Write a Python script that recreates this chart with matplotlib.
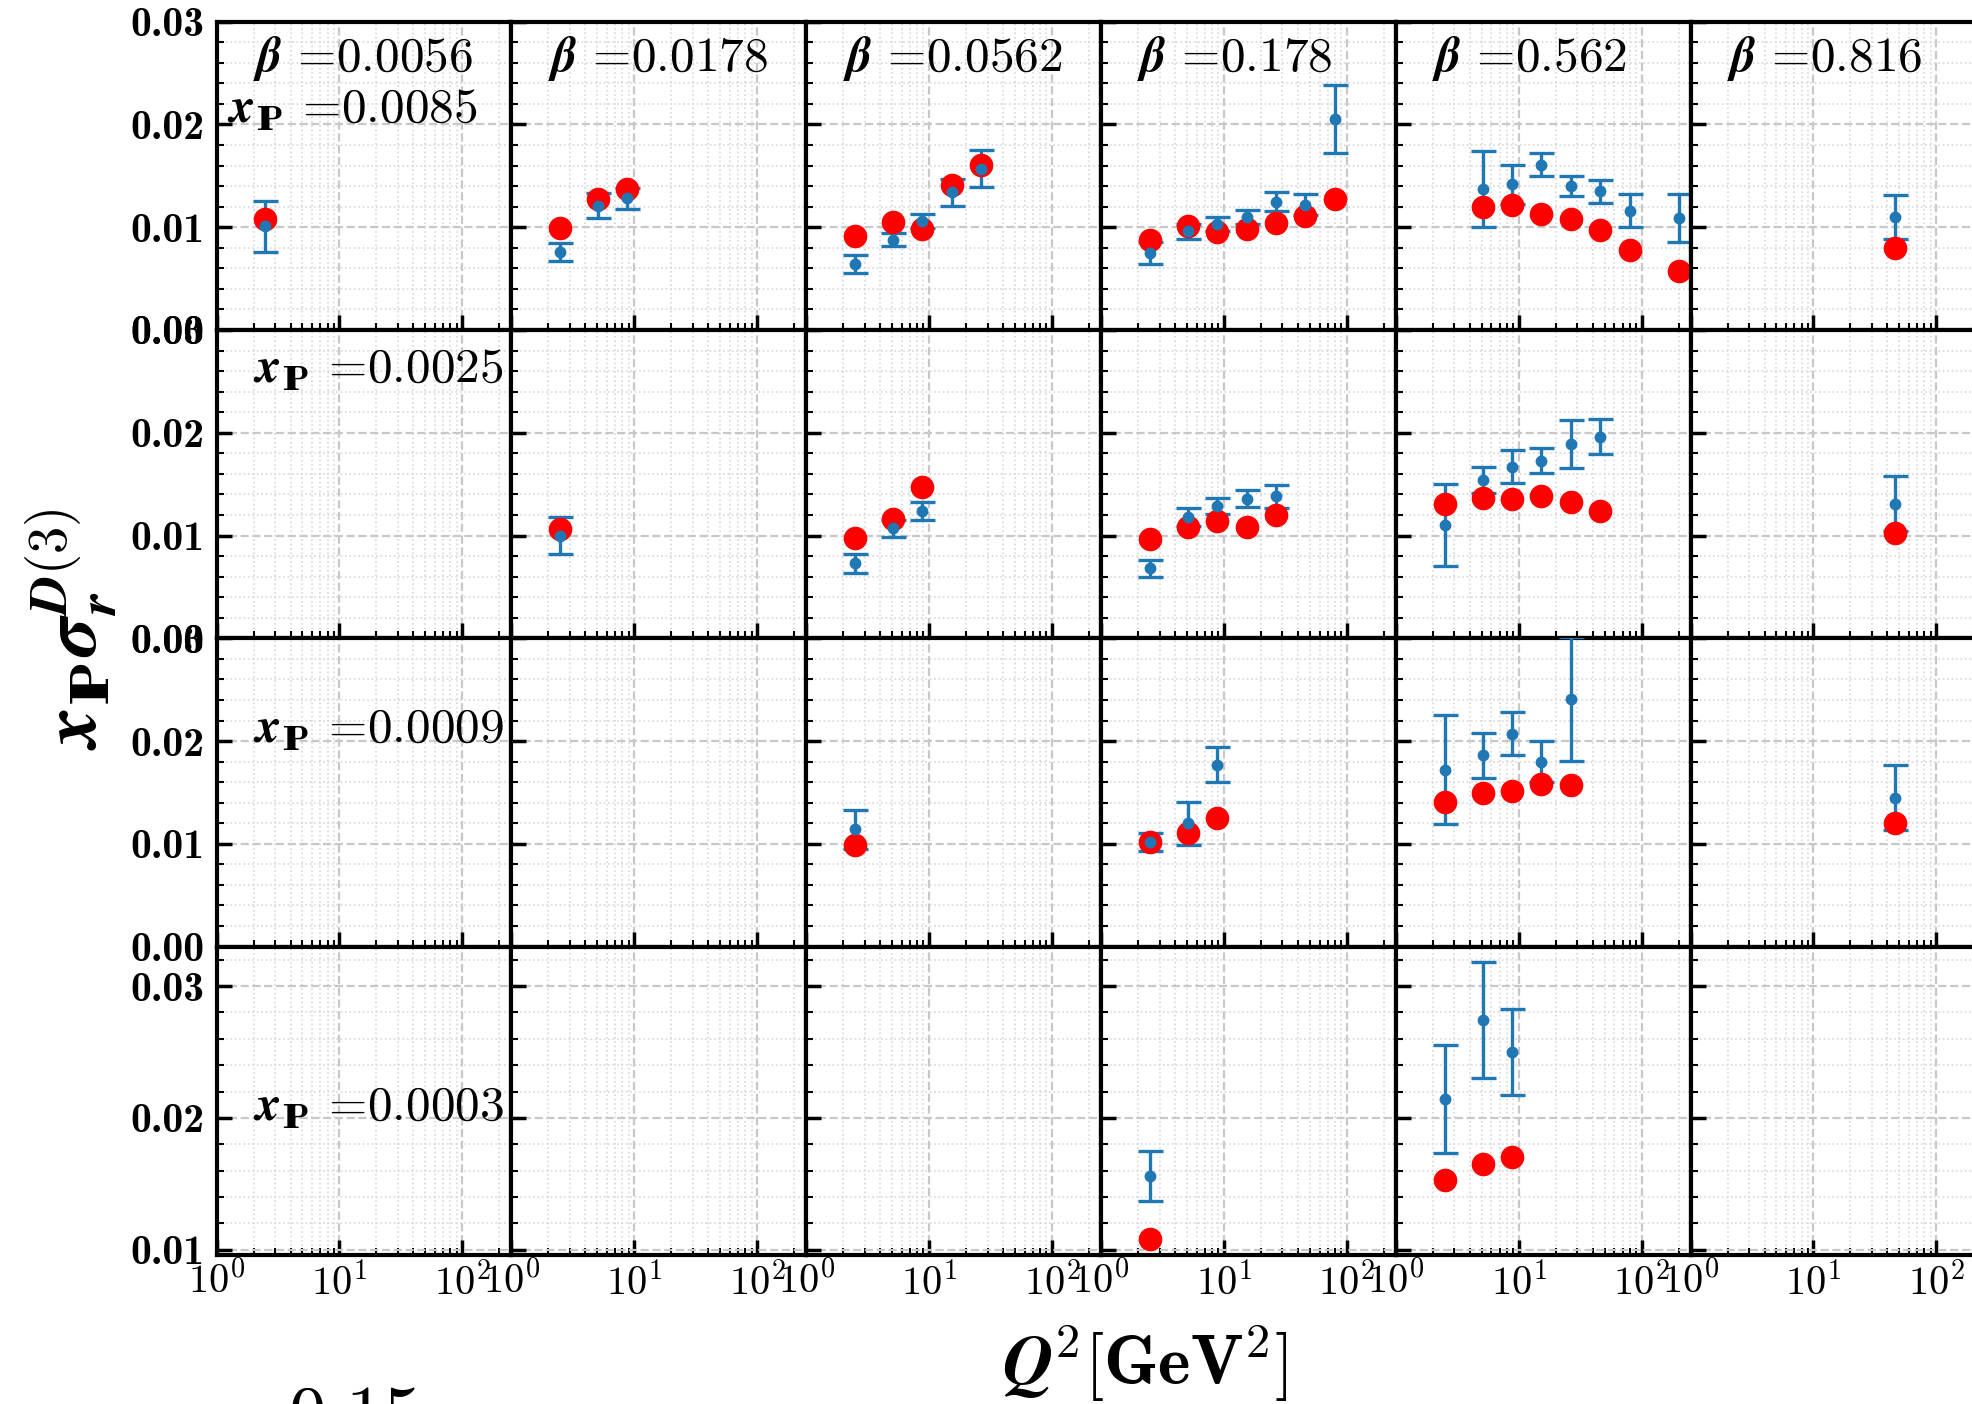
import matplotlib
matplotlib.use("Agg")
import matplotlib.pyplot as plt
from matplotlib.ticker import MultipleLocator, LogLocator, FormatStrFormatter, NullFormatter

plt.rcParams["mathtext.fontset"] = "cm"
plt.rcParams["font.family"] = "serif"
plt.rcParams["font.serif"] = ["cmr10"]
plt.rcParams["axes.formatter.use_mathtext"] = True

beta_labels = ["0.0056", "0.0178", "0.0562", "0.178", "0.562", "0.816"]
xpom_labels = ["0.0085", "0.0025", "0.0009", "0.0003"]

# one list per beta column, rows = x_IP bins
# --- x_IP = 0.0085
q2_r1 = [[2.5], [2.5, 5.1, 8.8], [2.5, 5.1, 8.8, 15.3, 26.5],
         [2.5, 5.1, 8.8, 15.3, 26.5, 46, 80],
         [5.1, 8.8, 15.3, 26.5, 46, 80, 200], [46]]
model_r1 = [[0.0108], [0.0099, 0.0127, 0.0137],
            [0.0091, 0.0105, 0.0098, 0.0141, 0.0161],
            [0.0088, 0.0101, 0.0095, 0.0098, 0.0104, 0.0111, 0.0127],
            [0.0120, 0.0122, 0.0113, 0.0108, 0.0097, 0.0078, 0.0057], [0.0080]]
data_r1 = [[0.0101], [0.0076, 0.0121, 0.0128],
           [0.0064, 0.0088, 0.0106, 0.0134, 0.0157],
           [0.0075, 0.0096, 0.0103, 0.0110, 0.0125, 0.0122, 0.0205],
           [0.0137, 0.0142, 0.0161, 0.0140, 0.0135, 0.0116, 0.0109], [0.0110]]
err_r1 = [[0.0025], [0.0009, 0.0012, 0.0010],
          [0.0009, 0.0006, 0.0007, 0.0013, 0.0018],
          [0.0011, 0.0007, 0.0007, 0.0007, 0.0009, 0.0010, 0.0033],
          [0.0037, 0.0019, 0.0011, 0.0010, 0.0011, 0.0016, 0.0023], [0.0021]]

# --- x_IP = 0.0025
q2_r2 = [[], [2.5], [2.5, 5.1, 8.8], [2.5, 5.1, 8.8, 15.3, 26.5],
         [2.5, 5.1, 8.8, 15.3, 26.5, 46], [46]]
model_r2 = [[], [0.0106], [0.0098, 0.0116, 0.0147],
            [0.0097, 0.0108, 0.0114, 0.0108, 0.0120],
            [0.0131, 0.0137, 0.0136, 0.0138, 0.0133, 0.0124], [0.0102]]
data_r2 = [[], [0.0100], [0.0073, 0.0107, 0.0124],
           [0.0068, 0.0118, 0.0129, 0.0136, 0.0138],
           [0.0110, 0.0154, 0.0167, 0.0173, 0.0189, 0.0196], [0.0131]]
err_r2 = [[], [0.0018], [0.0009, 0.0008, 0.0009],
          [0.0008, 0.0009, 0.0008, 0.0008, 0.0011],
          [0.0040, 0.0013, 0.0016, 0.0012, 0.0023, 0.0017], [0.0027]]

# --- x_IP = 0.0009
q2_r3 = [[], [], [2.5], [2.5, 5.1, 8.8], [2.5, 5.1, 8.8, 15.3, 26.5], [46]]
model_r3 = [[], [], [0.0099], [0.0102, 0.0111, 0.0125],
            [0.0141, 0.0149, 0.0151, 0.0158, 0.0157], [0.0120]]
data_r3 = [[], [], [0.0114], [0.0102, 0.0120, 0.0177],
           [0.0172, 0.0186, 0.0207, 0.0180, 0.0241], [0.0145]]
err_r3 = [[], [], [0.0019], [0.0009, 0.0021, 0.0017],
          [0.0053, 0.0022, 0.0021, 0.0020, 0.0060], [0.0032]]

# --- x_IP = 0.0003
q2_r4 = [[], [], [], [2.5], [2.5, 5.1, 8.8], []]
model_r4 = [[], [], [], [0.0108], [0.0153, 0.0165, 0.0170], []]
data_r4 = [[], [], [], [0.0156], [0.0214, 0.0274, 0.0250], []]
err_r4 = [[], [], [], [0.0019], [0.0041, 0.0044, 0.0033], []]

q2_all = [q2_r1, q2_r2, q2_r3, q2_r4]
model_all = [model_r1, model_r2, model_r3, model_r4]
data_all = [data_r1, data_r2, data_r3, data_r4]
err_all = [err_r1, err_r2, err_r3, err_r4]
ylims = [(0, 0.03), (0, 0.03), (0, 0.03), (0.0096, 0.033)]

W, H = 1972, 1404
fig = plt.figure(figsize=(W / 100, H / 100), dpi=100)

left0, top0 = 216.5, 21.7
cw, rh = 294.8, 308.3
xp_y = [0.713, 0.87, 0.70, 0.474]

for r in range(4):
    for c in range(6):
        ax = fig.add_axes([(left0 + c * cw) / W, 1 - (top0 + (r + 1) * rh) / H, cw / W, rh / H])
        ax.set_xscale("log")
        ax.set_xlim(1, 250)
        ax.set_ylim(*ylims[r])
        ax.yaxis.set_major_locator(MultipleLocator(0.01))
        ax.yaxis.set_minor_locator(MultipleLocator(0.002))
        ax.xaxis.set_major_locator(LogLocator(base=10, numticks=10))
        ax.xaxis.set_minor_locator(LogLocator(base=10, subs=range(2, 10), numticks=20))
        ax.grid(True, which="major", ls="--", color="#c8c8c8", lw=1.6)
        ax.grid(True, which="minor", ls=":", color="#d8d8d8", lw=1.2)
        ax.tick_params(which="both", direction="in", top=False, right=False)
        ax.tick_params(which="major", length=11, width=2.5)
        ax.tick_params(which="minor", length=5, width=1.5)
        ax.tick_params(axis="y", pad=9, labelsize=30, labelfontfamily="cmb10")
        ax.tick_params(axis="x", pad=5, labelsize=29)
        for s in ax.spines.values():
            s.set_linewidth(3)
        if c == 0:
            ax.yaxis.set_major_formatter(FormatStrFormatter("%.2f"))
        else:
            ax.set_yticklabels([])
        if r < 3:
            ax.xaxis.set_major_formatter(NullFormatter())
        ax.xaxis.set_minor_formatter(NullFormatter())

        q = q2_all[r][c]
        if q:
            ax.errorbar(q, data_all[r][c], yerr=err_all[r][c], fmt="none",
                        ecolor="#1f77b4", elinewidth=2.4, capsize=9, capthick=2.4, zorder=3)
            ax.plot(q, model_all[r][c], "o", color="red", ms=16, zorder=4)
            ax.plot(q, data_all[r][c], "o", color="#1f77b4", ms=7.5, zorder=5)

        if r == 0:
            ax.text(0.124, 0.882, r"$\boldsymbol{\beta}$ =" + beta_labels[c],
                    transform=ax.transAxes, ha="left", va="center", fontsize=35.5)
        if c == 0:
            xx = 0.035 if r == 0 else 0.124
            ax.text(xx, xp_y[r], r"$\boldsymbol{x}_{\mathbf{I\!\!P}}$ =" + xpom_labels[r],
                    transform=ax.transAxes, ha="left", va="center", fontsize=35.5)

fig.text(72 / W, 1 - 629 / H,
         r"$\boldsymbol{x}_{\mathbf{I\!\!P}}\boldsymbol{\sigma}_{\boldsymbol{r}}^{\boldsymbol{D}\mathbf{(3)}}$",
         rotation=90, ha="center", va="center", fontsize=56)
fig.text(1145 / W, 1 - 1364 / H, r"$\boldsymbol{Q}^{\mathbf{2}}\mathbf{[GeV^2]}$",
         ha="center", va="center", fontsize=50)
fig.text(288 / W, 1 - 1386 / H, "0.15", ha="left", va="top", fontsize=54)

fig.savefig("out.png", dpi=100)
